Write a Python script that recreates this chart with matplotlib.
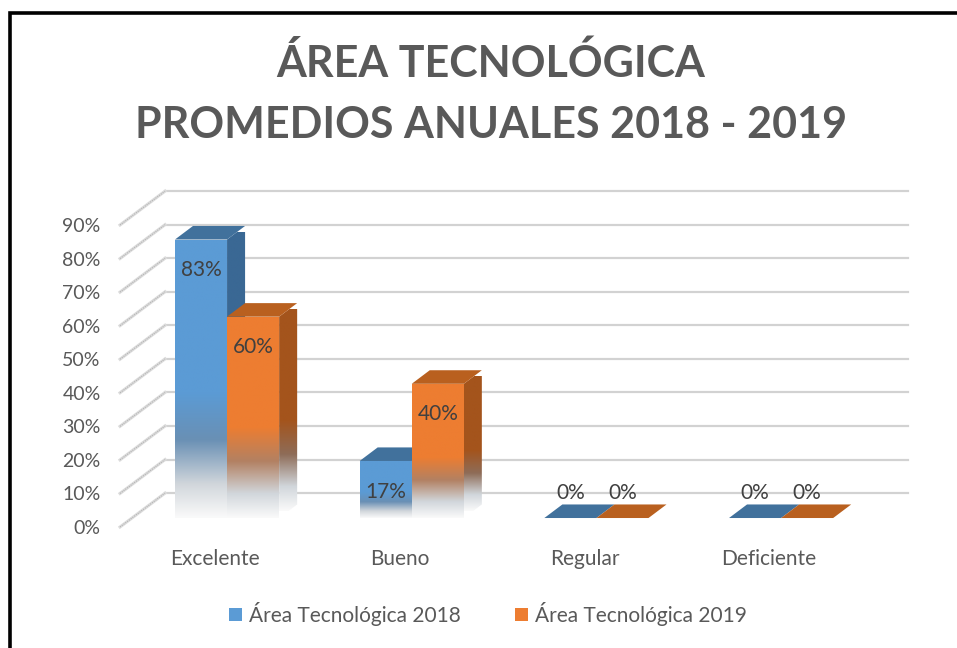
import matplotlib.pyplot as plt
import numpy as np
from matplotlib.patches import Polygon, Patch, Rectangle
from matplotlib.colors import to_rgb

plt.rcParams["font.family"] = ["Lato", "DejaVu Sans"]

categories = ["Excelente", "Bueno", "Regular", "Deficiente"]
series_names = ["Área Tecnológica 2018", "Área Tecnológica 2019"]
values_2018 = [83, 17, 0, 0]
values_2019 = [60, 40, 0, 0]
y_ticks = [0, 10, 20, 30, 40, 50, 60, 70, 80, 90]

TEXT = "#595959"
# front, top, side shades for each series
SHADES = [
    ("#5b9bd5", "#41719c", "#3a6894"),
    ("#ed7d31", "#b9601f", "#a4541c"),
]

W, H = 957, 648
DPI = 100

# pseudo-3d geometry, in data units (x: categories, y: percent)
WALL_DX, WALL_DY = 0.244, 10.1      # full depth of the chart box
BAR_D0 = 0.265                       # depth where bar fronts sit
BAR_DEPTH = 0.40                     # bar thickness as a share of the box depth
BAR_W = 0.282
X_LO, X_HI = -0.515, 3.506


def fade_image(color, n=200):
    # bar colour on the upper part, greying out to white near the floor
    c = np.array(to_rgb(color))
    grey = np.array([0.47, 0.52, 0.58])
    light = np.array([0.82, 0.84, 0.86])
    white = np.array([0.98, 0.98, 0.98])
    f = np.linspace(0, 1, n)
    stops = [(0.0, white), (0.12, light), (0.28, 0.5 * c + 0.5 * grey), (0.45, c), (1.0, c)]
    img = np.zeros((n, 1, 3))
    for ch in range(3):
        img[:, 0, ch] = np.interp(f, [s[0] for s in stops], [s[1][ch] for s in stops])
    return img


def faded_face(ax, verts, color, y0, y1, z):
    poly = Polygon(verts, closed=True, facecolor="none", edgecolor="none", clip_on=False)
    ax.add_patch(poly)
    xs = [v[0] for v in verts]
    im = ax.imshow(fade_image(color), extent=[min(xs), max(xs), y0, y1],
                   origin="lower", aspect="auto", zorder=z, interpolation="bilinear")
    im.set_clip_box(fig.bbox)
    im.set_clip_path(poly)


def draw_bar(ax, x_left, value, shades, z):
    front, top, side = shades
    sx, sy = BAR_D0 * WALL_DX, BAR_D0 * WALL_DY
    dx, dy = BAR_DEPTH * WALL_DX, BAR_DEPTH * WALL_DY
    x0, x1 = x_left + sx, x_left + sx + BAR_W
    b, t = sy, sy + value
    if value > 0:
        faded_face(ax, [(x0, b), (x1, b), (x1, t), (x0, t)], front, b, t, z)
        faded_face(ax, [(x1, b), (x1 + dx, b + dy), (x1 + dx, t + dy), (x1, t)],
                   side, b + dy / 2, t + dy / 2, z)
    ax.add_patch(Polygon([(x0, t), (x1, t), (x1 + dx, t + dy), (x0 + dx, t + dy)],
                         closed=True, facecolor=top, edgecolor="none",
                         zorder=z + 0.1, clip_on=False))
    label_off = -22 if value > 0 else 18
    ax.annotate(f"{value}%", ((x0 + x1) / 2, t), xytext=(0, label_off),
                textcoords="offset points", ha="center", va="center",
                fontsize=15, color="#404040", zorder=z + 0.2, annotation_clip=False)


fig = plt.figure(figsize=(W / DPI, H / DPI), dpi=DPI)
ax = fig.add_axes([120 / W, 121 / H, (862.6 - 120) / W, 302 / H])
ax.set_xlim(X_LO, X_HI)
ax.set_ylim(0, 90)
for s in ax.spines.values():
    s.set_visible(False)
ax.patch.set_visible(False)

# back wall and side wall gridlines
for v in y_ticks:
    ax.plot([X_LO + WALL_DX, X_HI + WALL_DX], [v + WALL_DY, v + WALL_DY],
            color="#d2d2d2", lw=1.6, zorder=0, clip_on=False)
    ax.plot([X_LO, X_LO + WALL_DX], [v, v + WALL_DY], color="#dcdcdc",
            lw=2.2, zorder=0, clip_on=False)
    ax.plot([X_LO, X_LO + WALL_DX], [v, v + WALL_DY], color="#b4b4b4",
            lw=0.8, ls=(0, (1.0, 1.0)), zorder=0.1, clip_on=False)

x = np.arange(len(categories))
for i, xi in enumerate(x):
    draw_bar(ax, xi - BAR_W, values_2018[i], SHADES[0], 2 + i)
    draw_bar(ax, xi, values_2019[i], SHADES[1], 2.5 + i)

ax.set_yticks(y_ticks)
ax.set_yticklabels([f"{v}%" for v in y_ticks])
ax.set_xticks(x)
ax.set_xticklabels(categories)
ax.tick_params(axis="y", length=0, pad=14, labelsize=14, labelcolor=TEXT)
ax.tick_params(axis="x", length=0, pad=16, labelsize=15, labelcolor=TEXT)

fig.text(0.513, 1 - 63 / H, "ÁREA TECNOLÓGICA", ha="center", va="center",
         fontsize=31, fontweight="bold", color=TEXT)
fig.text(0.513, 1 - 125 / H, "PROMEDIOS ANUALES 2018 - 2019", ha="center",
         va="center", fontsize=31, fontweight="bold", color=TEXT)

handles = [Patch(facecolor=SHADES[k][0], edgecolor="none") for k in range(2)]
fig.legend(handles, series_names, loc="center", bbox_to_anchor=(0.51, 1 - 614 / H),
           ncol=2, frameon=False, fontsize=15, labelcolor=TEXT,
           handlelength=0.6, handleheight=0.6, handletextpad=0.35, columnspacing=2.6)

# outer frame
fig.patches.append(Rectangle((10 / W, -0.1), 1.2, 1 - 13 / H + 0.1,
                             transform=fig.transFigure, fill=False,
                             edgecolor="black", lw=2.6))

fig.savefig("out.png", dpi=DPI)
